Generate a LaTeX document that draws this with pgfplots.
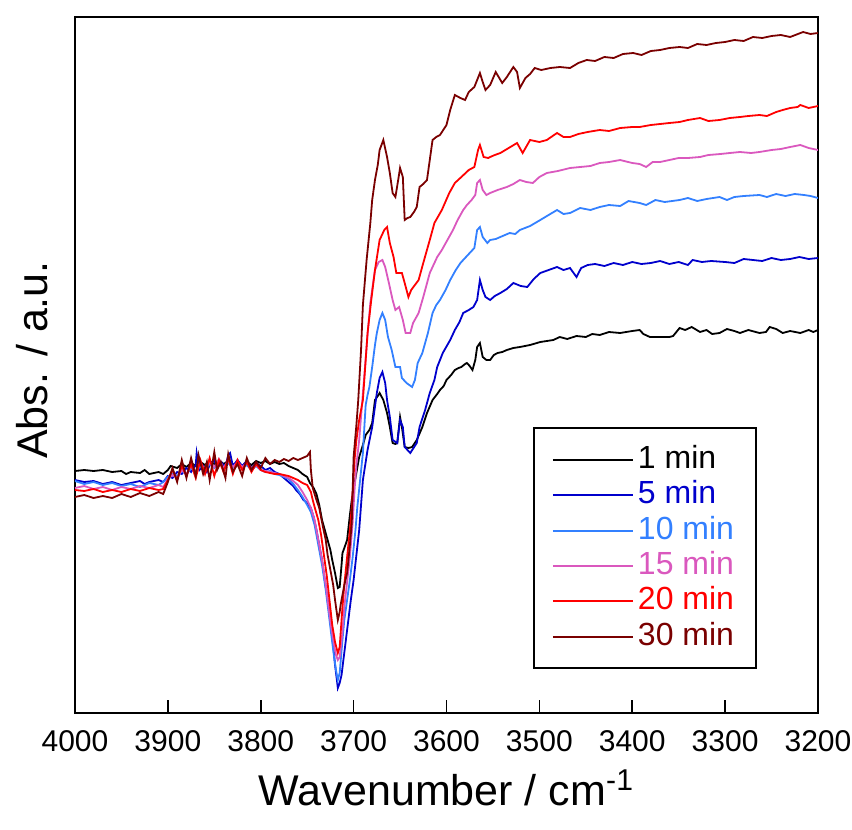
\documentclass[border=0pt]{standalone}
\usepackage{pgfplots}
\pgfplotsset{compat=1.18}
\usepackage{fontspec}
\setmainfont{Liberation Sans}
\usetikzlibrary{calc}
\definecolor{c1}{HTML}{000000}
\definecolor{c5}{HTML}{0000CC}
\definecolor{c10}{HTML}{3380FF}
\definecolor{c15}{HTML}{DA58BE}
\definecolor{c20}{HTML}{FF0000}
\definecolor{c30}{HTML}{7A0000}
\begin{document}
\begin{tikzpicture}
\begin{axis}[
  width=371.5pt, height=348pt, scale only axis,
  x dir=reverse, y dir=reverse,
  xmin=3200, xmax=4000, ymin=17, ymax=713,
  enlargelimits=false,
  xtick={3200,3300,...,4000}, xtick pos=bottom, tick align=inside,
  major tick length=6.5pt,
  ytick=\empty,
  scaled x ticks=false,
  axis line style={line width=1pt},
  every tick/.style={black, line width=0.8pt},
  /pgf/number format/assume math mode=true,
  /pgf/number format/1000 sep={},
  xticklabel style={font=\fontsize{15}{15}\selectfont, yshift=-5pt},
  xlabel={Wavenumber / cm\textsuperscript{-1}},
  xlabel style={font=\fontsize{21.5}{21.5}\selectfont, at={(axis description cs:0.5,0)}, anchor=north, yshift=-25pt},
  legend style={at={(0.6164,0.4109)}, anchor=north west, draw=black, line width=1pt,
    inner xsep=9pt, inner ysep=7pt, font=\fontsize{16}{16}\selectfont,
    nodes={text height=11.5pt, text depth=3pt, inner ysep=1.6pt}},
  legend cell align=left,
  legend image code/.code={\draw[#1, line width=1pt] (0pt,0pt) -- (40pt,0pt);},
  every axis plot/.append style={line width=0.9pt, mark=none},
]
% 1 min
\addplot[c1] table {
4000 471
3990 470
3980 471
3970 470
3960 472
3950 471
3945 474
3940 472
3930 473
3925 470
3920 474
3910 472
3905 474
3900 470
3897 466
3890 468
3885 464
3880 467
3875 463
3870 466
3865 462
3860 465
3855 461
3850 464
3845 460
3840 464
3835 461
3830 465
3825 462
3820 466
3815 462
3810 465
3805 461
3800 463
3795 461
3790 464
3785 462
3780 464
3775 463
3770 466
3765 468
3760 470
3755 474
3750 477
3747 483
3743 488
3740 494
3737 505
3734 520
3731 530
3728 540
3725 550
3723 560
3720 573
3717 588
3715 587
3713 565
3712 553
3710 548
3707 540
3704 515
3702 500
3698 478
3694 457
3690 445
3687 435
3683 430
3680 423
3677 400
3674 396
3672 393
3668 400
3664 413
3661 427
3658 443
3655 444
3653 443
3650 417
3648 427
3645 447
3641 448
3637 447
3632 440
3626 427
3621 413
3615 400
3610 394
3607 390
3603 386
3600 380
3595 375
3591 370
3587 368
3584 367
3580 364
3578 363
3575 366
3572 370
3569 360
3567 347
3564 343
3561 357
3557 360
3553 360
3549 355
3545 353
3540 352
3535 350
3528 348
3521 347
3510 345
3499 342
3492 341
3485 340
3478 337
3470 339
3460 336
3450 337
3443 334
3435 335
3425 332
3413 333
3400 331
3392 330
3388 334
3381 337
3370 337
3360 337
3356 336
3349 328
3343 330
3336 327
3327 332
3320 330
3314 334
3306 333
3298 329
3290 331
3284 333
3275 330
3263 333
3256 332
3252 327
3245 329
3238 333
3230 331
3219 333
3210 330
3205 332
3200 330
};
\addlegendentry{\textcolor{c1}{1 min}}
% 5 min
\addplot[c5] table {
4000 480
3990 482
3980 481
3970 484
3960 482
3950 485
3940 483
3930 481
3925 484
3920 482
3910 480
3905 482
3900 476
3895 478
3890 472
3885 474
3880 468
3875 472
3870 465
3869 453
3866 470
3862 466
3858 472
3855 465
3850 460
3847 468
3843 462
3838 467
3835 455
3833 453
3830 466
3825 460
3820 466
3815 461
3810 468
3805 463
3800 466
3795 470
3790 468
3785 472
3780 474
3775 478
3770 482
3765 486
3762 490
3758 494
3754 500
3750 503
3746 508
3743 517
3740 530
3737 545
3734 560
3731 580
3728 600
3725 620
3722 645
3720 665
3718 680
3717 688
3715 683
3713 675
3711 660
3709 645
3707 630
3705 615
3703 600
3700 580
3697 555
3694 530
3692 505
3690 480
3685 450
3680 427
3675 393
3672 378
3669 372
3666 383
3664 400
3661 417
3658 440
3653 443
3650 420
3647 427
3645 447
3639 453
3632 443
3629 427
3623 410
3618 393
3613 380
3610 367
3604 353
3596 340
3591 330
3586 322
3582 313
3576 310
3571 307
3567 300
3564 280
3561 290
3558 297
3553 300
3548 296
3542 293
3535 289
3528 283
3520 286
3513 287
3506 279
3499 273
3490 270
3481 267
3474 270
3467 268
3460 277
3455 268
3448 265
3440 264
3430 266
3420 263
3410 265
3400 262
3390 264
3380 263
3370 261
3360 264
3350 262
3340 265
3335 260
3325 262
3315 261
3300 262
3290 263
3280 259
3270 260
3260 261
3250 258
3240 260
3230 259
3220 257
3210 259
3200 258
};
\addlegendentry{\textcolor{c5}{5 min}}
% 10 min
\addplot[c10] table {
4000 481
3990 484
3980 482
3970 485
3960 483
3950 486
3940 484
3930 487
3920 483
3910 485
3905 482
3900 477
3895 474
3890 476
3885 471
3880 474
3875 468
3870 472
3865 466
3860 470
3855 464
3850 468
3845 462
3840 469
3835 463
3830 468
3825 464
3820 468
3815 465
3810 470
3805 466
3800 470
3795 472
3790 471
3785 474
3780 475
3775 477
3770 479
3765 484
3760 490
3755 497
3750 505
3746 512
3742 525
3738 545
3734 565
3730 590
3727 612
3724 635
3721 657
3719 670
3717 680
3715 673
3712 640
3710 620
3707 600
3704 580
3701 557
3698 530
3696 507
3693 480
3690 453
3688 420
3687 405
3685 395
3683 387
3680 367
3677 345
3675 333
3672 320
3669 313
3666 320
3663 337
3659 350
3655 367
3650 367
3648 378
3643 383
3637 387
3634 380
3631 363
3626 353
3620 333
3615 313
3611 305
3607 300
3601 290
3596 280
3590 270
3585 263
3580 258
3575 253
3570 248
3567 230
3564 227
3561 237
3556 243
3553 240
3547 239
3542 237
3537 235
3532 233
3526 234
3521 230
3510 226
3499 220
3490 215
3481 210
3474 214
3467 213
3456 208
3445 210
3435 207
3425 205
3413 206
3404 201
3392 203
3385 205
3375 200
3365 202
3349 200
3340 198
3330 201
3320 199
3306 197
3298 200
3290 197
3280 196
3263 195
3255 197
3245 194
3235 196
3225 194
3215 195
3208 196
3200 198
};
\addlegendentry{\textcolor{c10}{10 min}}
% 15 min
\addplot[c15] table {
4000 488
3990 486
3980 489
3970 487
3960 490
3950 487
3940 489
3930 486
3920 488
3910 485
3905 487
3900 479
3895 475
3890 478
3885 470
3880 474
3875 466
3870 472
3865 463
3860 470
3855 462
3850 467
3845 459
3840 468
3835 461
3830 467
3825 462
3820 467
3815 463
3810 468
3805 465
3800 470
3795 471
3790 472
3785 473
3780 474
3775 476
3770 478
3765 481
3760 485
3755 492
3750 500
3746 508
3742 520
3738 540
3734 560
3730 585
3727 607
3724 628
3721 645
3719 655
3717 660
3715 657
3712 632
3710 607
3707 582
3704 557
3701 522
3699 490
3697 465
3694 440
3691 405
3688 370
3685 335
3682 303
3679 283
3677 270
3673 262
3669 260
3666 267
3662 283
3658 300
3655 310
3651 307
3647 320
3644 333
3639 333
3636 323
3630 313
3625 297
3618 273
3610 257
3605 250
3599 240
3593 230
3588 220
3582 210
3578 205
3573 200
3569 195
3567 183
3564 180
3561 190
3557 195
3553 193
3545 190
3535 187
3528 184
3521 180
3514 182
3507 183
3500 177
3492 173
3480 171
3467 168
3456 167
3445 166
3435 163
3425 162
3413 160
3400 163
3392 164
3385 167
3378 162
3370 162
3360 160
3350 158
3340 158
3327 157
3318 155
3305 154
3295 153
3284 152
3272 153
3263 152
3250 150
3240 149
3230 147
3219 145
3210 148
3200 150
};
\addlegendentry{\textcolor{c15}{15 min}}
% 20 min
\addplot[c20] table {
4000 490
3990 491
3980 489
3970 492
3960 490
3950 492
3940 489
3930 491
3920 488
3910 490
3905 489
3900 480
3895 470
3890 480
3885 466
3880 476
3875 464
3870 478
3865 460
3860 474
3855 458
3850 476
3845 460
3840 472
3835 458
3830 474
3825 460
3820 470
3815 462
3810 472
3805 464
3800 470
3795 472
3790 473
3785 474
3780 474
3775 475
3770 476
3765 478
3760 480
3755 483
3750 485
3746 492
3744 500
3742 507
3738 520
3735 535
3732 555
3729 575
3726 600
3723 625
3720 642
3717 653
3715 647
3712 607
3710 585
3707 557
3704 530
3702 507
3699 460
3697 440
3694 420
3690 400
3687 360
3685 333
3681 300
3677 270
3674 252
3672 240
3667 230
3664 227
3661 243
3657 257
3654 273
3648 273
3645 283
3641 297
3638 290
3634 285
3630 280
3625 263
3618 240
3613 223
3605 210
3597 193
3591 183
3584 177
3576 170
3570 167
3566 150
3564 145
3560 157
3555 158
3553 157
3548 155
3542 153
3533 148
3524 143
3518 153
3510 140
3500 142
3492 140
3481 133
3474 137
3467 137
3458 134
3448 132
3435 130
3425 131
3413 128
3400 127
3392 127
3380 125
3370 124
3360 123
3349 122
3340 120
3327 118
3318 121
3306 120
3295 118
3284 117
3275 116
3263 115
3255 116
3245 112
3238 110
3230 108
3222 107
3219 105
3210 108
3200 106
};
\addlegendentry{\textcolor{c20}{20 min}}
% 30 min
\addplot[c30] table {
4000 497
3990 495
3980 498
3970 496
3960 498
3950 494
3940 497
3930 493
3920 496
3910 492
3905 494
3900 482
3895 468
3890 482
3885 460
3880 478
3875 458
3870 476
3867 455
3862 474
3858 462
3855 480
3850 452
3847 470
3843 462
3838 478
3835 454
3830 472
3825 464
3820 476
3815 458
3810 470
3805 462
3800 468
3795 458
3790 464
3785 460
3780 462
3775 459
3770 461
3765 458
3760 460
3755 458
3750 456
3747 452
3746 470
3744 488
3740 500
3737 508
3733 527
3730 540
3728 555
3725 570
3722 585
3720 600
3717 620
3715 612
3714 605
3710 585
3707 573
3704 545
3702 523
3701 490
3700 457
3697 425
3695 400
3692 350
3690 305
3686 260
3682 223
3680 200
3677 180
3674 165
3672 150
3668 140
3664 157
3661 173
3658 193
3655 197
3652 180
3650 168
3647 177
3645 220
3642 218
3639 217
3635 212
3632 207
3629 187
3625 184
3621 180
3618 160
3615 140
3611 137
3607 135
3600 125
3596 110
3591 95
3585 98
3580 100
3576 92
3570 87
3567 80
3564 73
3561 82
3558 90
3553 85
3547 72
3540 83
3535 77
3528 67
3524 72
3521 88
3515 78
3510 74
3505 68
3498 70
3488 68
3478 67
3467 68
3458 63
3449 60
3440 61
3430 57
3420 58
3410 54
3399 53
3390 55
3380 51
3370 50
3360 48
3349 47
3340 48
3330 44
3320 45
3310 43
3300 42
3290 40
3280 41
3270 37
3260 38
3250 36
3240 35
3230 37
3216 32
3208 34
3200 33
};
\addlegendentry{\textcolor{c30}{30 min}}
\end{axis}
\node[rotate=90, font=\fontsize{21.5}{21.5}\selectfont] at ($(current axis.west)+(-21.5pt,2.5pt)$) {Abs. / a.u.};
\pgfresetboundingbox
\path[use as bounding box] ($(current axis.south west)+(-37.5pt,-58.5pt)$) rectangle ($(current axis.north east)+(17pt,8.5pt)$);
\end{tikzpicture}
\end{document}
